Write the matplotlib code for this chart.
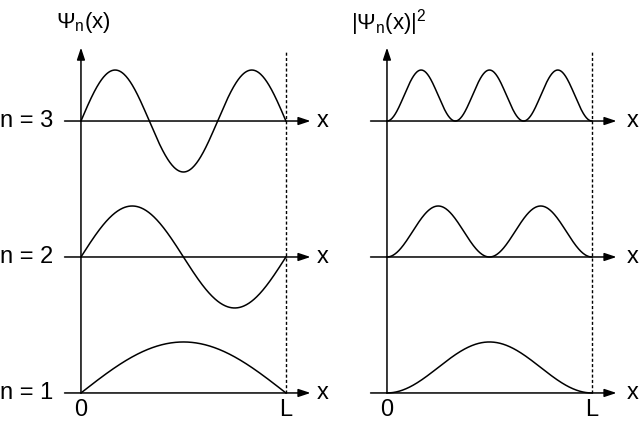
import numpy as np
import matplotlib
matplotlib.use("Agg")
import matplotlib.pyplot as plt

plt.rcParams['font.family'] = ['Liberation Sans', 'DejaVu Sans']
plt.rcParams['mathtext.fontset'] = 'custom'
plt.rcParams['mathtext.rm'] = 'Liberation Sans'
plt.rcParams['mathtext.it'] = 'Liberation Sans'

# Data
quantum_numbers = [1, 2, 3]
level_labels = ["n = 1", "n = 2", "n = 3"]
amplitude = 0.375          # peak height relative to level spacing
box_length = 1.0           # L
x_tick_labels = ["0", "L"]
panel_titles = [r"$\mathrm{Ψ_n(x)}$", r"$\mathrm{|Ψ_n(x)|^2}$"]

x = np.linspace(0, box_length, 400)

fig = plt.figure(figsize=(6.44, 4.26), dpi=100)
ax_l = fig.add_axes([0, 0, 0.5, 1])
ax_r = fig.add_axes([0.5, 0, 0.5, 1])

ylim = (0.757, 3.89)
ax_l.set_xlim(-0.395, 1.176)
ax_r.set_xlim(-0.317, 1.254)
for ax in (ax_l, ax_r):
    ax.set_ylim(*ylim)
    ax.axis('off')

lw = 1.1
arrow_kw = dict(arrowstyle='-|>,head_length=0.6,head_width=0.2', color='black',
                lw=lw, mutation_scale=12, shrinkA=0, shrinkB=0)

def draw_panel(ax, squared, x_label_pos, show_levels):
    # y axis arrow
    ax.annotate('', xy=(0, 3.54), xytext=(0, 1.0), arrowprops=arrow_kw)
    # dotted line at L
    ax.plot([box_length, box_length], [1.0, 3.51], color='black', lw=1.0,
            linestyle=(0, (2.2, 1.6)))
    for n, lab in zip(quantum_numbers, level_labels):
        ax.annotate('', xy=(1.12, n), xytext=(-0.08, n), arrowprops=arrow_kw)
        psi = np.sin(n * np.pi * x / box_length)
        y = psi ** 2 if squared else psi
        ax.plot(x, n + amplitude * y, color='black', lw=lw)
        ax.text(x_label_pos, n, "x", fontsize=17, ha='center', va='center')
        if show_levels:
            ax.text(-0.135, n, lab, fontsize=17, ha='right', va='center')
    ax.text(0, 0.875, x_tick_labels[0], fontsize=17, ha='center', va='center')
    ax.text(box_length, 0.875, x_tick_labels[1], fontsize=17, ha='center', va='center')

draw_panel(ax_l, False, 1.18, True)
draw_panel(ax_r, True, 1.2, False)

ax_l.text(0.01, 3.725, panel_titles[0], fontsize=16, ha='center', va='center')
ax_r.text(0.01, 3.725, panel_titles[1], fontsize=16, ha='center', va='center')

fig.savefig("out.png", dpi=100, facecolor='white')
